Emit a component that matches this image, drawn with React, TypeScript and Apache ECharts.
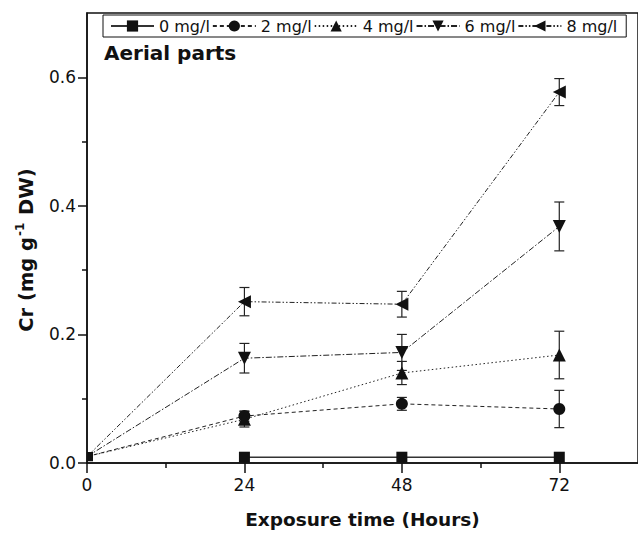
import React, { useEffect, useRef } from "react";
import * as echarts from "echarts";

const hours = [0, 24, 48, 72];
const seriesNames = ["0 mg/l", "2 mg/l", "4 mg/l", "6 mg/l", "8 mg/l"];
const cr0 = [null, 0.009, 0.009, 0.009];
const err0 = [0, 0, 0, 0];
const cr2 = [0.01, 0.073, 0.092, 0.084];
const err2 = [0, 0.008, 0.01, 0.029];
const cr4 = [0.01, 0.068, 0.14, 0.168];
const err4 = [0, 0.012, 0.018, 0.037];
const cr6 = [0.01, 0.163, 0.172, 0.368];
const err6 = [0, 0.023, 0.028, 0.038];
const cr8 = [0.01, 0.251, 0.247, 0.577];
const err8 = [0, 0.022, 0.02, 0.021];
const xMajorTicks = [0, 24, 48, 72];
const xMinorTicks = [12, 36, 60];
const yMajorTicks = [0, 0.2, 0.4, 0.6];
const yMinorTicks = [0.1, 0.3, 0.5];

const FONT = "DejaVu Sans";

export default function App() {
  const ref = useRef<HTMLDivElement>(null);
  useEffect(() => {
    if (!ref.current) return;
    const chart = echarts.init(ref.current, null, { renderer: "svg" });
    const values: (number | null)[][] = [cr0, cr2, cr4, cr6, cr8];
    const errors = [err0, err2, err4, err6, err8];
    const symbols = ["rect", "circle", "triangle", "triangle", "triangle"];
    const rotations = [0, 0, 0, 180, 90];
    const sizes = [11, 12, 13, 13, 13];
    const dashes: any[] = [
      "solid",
      [4, 3],
      [1.5, 2.5],
      [6, 2, 1.5, 2],
      [5, 2, 1.5, 2, 1.5, 2],
    ];
    const lineSeries = seriesNames.map((name, k) => ({
      type: "line",
      name,
      data: hours.map((h, i) =>
        i === 0
          ? {
              value: [h, values[k][i]],
              symbol: "rect",
              symbolSize: [6, 9],
              symbolOffset: [3, 0],
              symbolRotate: 0,
            }
          : [h, values[k][i]]
      ),
      symbol: symbols[k],
      symbolRotate: rotations[k],
      symbolSize: sizes[k],
      showAllSymbol: true,
      clip: false,
      lineStyle: { color: k === 0 ? "#333" : "#222", width: k === 0 ? 1.5 : 1, type: dashes[k] },
      itemStyle: { color: "#111", borderWidth: 0 },
      z: 3,
    }));
    const errData: number[][] = [];
    values.forEach((arr, k) =>
      arr.forEach((v, i) => {
        if (v !== null && errors[k][i] > 0) errData.push([hours[i], v, errors[k][i]]);
      })
    );
    const errSeries = {
      type: "custom",
      name: "err",
      data: errData,
      encode: { x: 0, y: 1 },
      z: 2,
      renderItem: (params: any, api: any) => {
        const x = api.value(0);
        const y = api.value(1);
        const e = api.value(2);
        const top = api.coord([x, y + e]);
        const bot = api.coord([x, y - e]);
        const hw = 5;
        const st = { stroke: "#222", lineWidth: 1.2 };
        return {
          type: "group",
          children: [
            { type: "line", shape: { x1: top[0], y1: top[1], x2: bot[0], y2: bot[1] }, style: st },
            { type: "line", shape: { x1: top[0] - hw, y1: top[1], x2: top[0] + hw, y2: top[1] }, style: st },
            { type: "line", shape: { x1: bot[0] - hw, y1: bot[1], x2: bot[0] + hw, y2: bot[1] }, style: st },
          ],
        };
      },
    };
    const axisLabelStyle = { fontFamily: FONT, fontSize: 17, color: "#111" };
    chart.setOption({
      animation: false,
      backgroundColor: "#fff",
      grid: {
        left: 87,
        right: -3,
        top: 13,
        bottom: 67,
        show: true,
        borderColor: "#111",
        borderWidth: 1.5,
        backgroundColor: "transparent",
      },
      legend: {
        data: seriesNames,
        left: 103,
        top: 15,
        orient: "horizontal",
        itemWidth: 43,
        itemHeight: 14,
        itemGap: 2,
        padding: [3, 9, 3, 7],
        borderColor: "#111",
        borderWidth: 1,
        textStyle: { fontFamily: FONT, fontSize: 16, color: "#111" },
        selectedMode: false,
      },
      xAxis: [
        {
          type: "value",
          min: 0,
          max: 84,
          interval: 12,
          position: "bottom",
          axisLine: { show: true, lineStyle: { color: "#111", width: 1.5 } },
          axisTick: { show: true, length: 10, customValues: xMajorTicks, lineStyle: { color: "#111", width: 1.5 } },
          axisLabel: { ...axisLabelStyle, margin: 13, customValues: xMajorTicks },
          splitLine: { show: false },
          name: "Exposure time (Hours)",
          nameLocation: "middle",
          nameGap: 47,
          nameTextStyle: { fontFamily: FONT, fontSize: 18.5, fontWeight: "bold", color: "#111" },
        },
        {
          type: "value",
          min: 0,
          max: 84,
          interval: 12,
          position: "bottom",
          axisLine: { show: false },
          axisTick: { show: true, length: 5, customValues: xMinorTicks, lineStyle: { color: "#111", width: 1.5 } },
          axisLabel: { show: false },
          splitLine: { show: false },
        },
      ],
      yAxis: [
        {
          type: "value",
          min: 0,
          max: 0.7,
          interval: 0.1,
          position: "left",
          axisLine: { show: true, lineStyle: { color: "#111", width: 1.5 } },
          axisTick: { show: true, length: 9, customValues: yMajorTicks, lineStyle: { color: "#111", width: 1.5 } },
          axisLabel: {
            ...axisLabelStyle,
            margin: 11,
            customValues: yMajorTicks,
            formatter: (v: number) => v.toFixed(1),
          },
          splitLine: { show: false },
        },
        {
          type: "value",
          min: 0,
          max: 0.7,
          interval: 0.1,
          position: "left",
          offset: 0,
          axisLine: { show: false },
          axisTick: { show: true, length: 5, customValues: yMinorTicks, lineStyle: { color: "#111", width: 1.5 } },
          axisLabel: { show: false },
          splitLine: { show: false },
        },
      ],
      graphic: [
        {
          type: "text",
          left: 104,
          top: 43,
          style: { text: "Aerial parts", fontFamily: FONT, fontSize: 20, fontWeight: "bold", fill: "#111" },
        },
        {
          type: "text",
          x: 26,
          y: 250,
          rotation: Math.PI / 2,
          style: {
            text: "{b|Cr (mg g}{s|-1}{b| DW)}",
            align: "center",
            verticalAlign: "middle",
            rich: {
              b: { fontFamily: FONT, fontSize: 19.5, fontWeight: "bold", fill: "#111" },
              s: { fontFamily: FONT, fontSize: 12, fontWeight: "bold", fill: "#111", padding: [0, 1, 13, 1] },
            },
          },
        },
      ],
      series: [errSeries, ...lineSeries],
    });
    return () => chart.dispose();
  }, []);
  return (
    <div
      ref={ref}
      style={{ position: "fixed", left: 0, top: 0, width: 638, height: 534, background: "#fff" }}
    />
  );
}
